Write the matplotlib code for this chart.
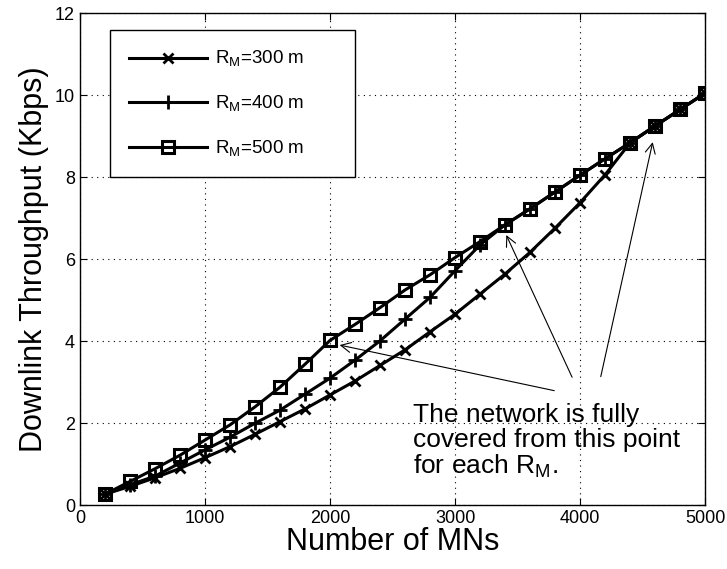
import matplotlib
matplotlib.use("Agg")
import matplotlib.pyplot as plt

plt.rcParams['font.family'] = ['Liberation Sans', 'DejaVu Sans']

# number of mobile nodes
mns = [200, 400, 600, 800, 1000, 1200, 1400, 1600, 1800, 2000, 2200, 2400, 2600,
       2800, 3000, 3200, 3400, 3600, 3800, 4000, 4200, 4400, 4600, 4800, 5000]

# downlink throughput (Kbps) for each R_M
thr_300 = [0.27, 0.46, 0.67, 0.90, 1.16, 1.43, 1.73, 2.04, 2.35, 2.69, 3.03, 3.41, 3.79,
           4.23, 4.66, 5.15, 5.64, 6.17, 6.76, 7.38, 8.06, 8.84, 9.25, 9.65, 10.05]
thr_400 = [0.27, 0.50, 0.71, 1.03, 1.35, 1.66, 2.00, 2.32, 2.71, 3.10, 3.54, 4.01, 4.54,
           5.07, 5.72, 6.35, 6.84, 7.23, 7.64, 8.05, 8.45, 8.84, 9.25, 9.65, 10.05]
thr_500 = [0.27, 0.58, 0.89, 1.22, 1.59, 1.96, 2.40, 2.88, 3.44, 4.02, 4.41, 4.82, 5.25,
           5.62, 6.04, 6.43, 6.84, 7.23, 7.64, 8.05, 8.45, 8.84, 9.25, 9.65, 10.05]

fig = plt.figure(figsize=(7.27, 5.69), dpi=100)
ax = fig.add_axes([0.110, 0.112, 0.860, 0.865])

ax.plot(mns, thr_300, 'k-', marker='x', ms=7, mew=2, lw=2.2, label=r'R$_\mathregular{M}$=300 m       ')
ax.plot(mns, thr_400, 'k-', marker='+', ms=10, mew=2, lw=2.2, label=r'R$_\mathregular{M}$=400 m       ')
ax.plot(mns, thr_500, 'k-', marker='s', ms=8, mew=2.2, mfc='none', lw=2.2, label=r'R$_\mathregular{M}$=500 m       ')

ax.set_xlim(0, 5000)
ax.set_ylim(0, 12)
ax.set_xticks([0, 1000, 2000, 3000, 4000, 5000])
ax.set_yticks([0, 2, 4, 6, 8, 10, 12])
ax.grid(True, color='k', linestyle=(0, (1, 4)), linewidth=0.8)
ax.tick_params(direction='in', top=True, right=True, labelsize=13, length=5, width=0.8)
for s in ax.spines.values():
    s.set_linewidth(1.0)

ax.set_xlabel('Number of MNs', fontsize=22, labelpad=0)
ax.set_ylabel('Downlink Throughput (Kbps)', fontsize=22, labelpad=4)

leg = ax.legend(loc='upper left', bbox_to_anchor=(0.048, 0.965), fontsize=13.5,
                handlelength=4.2, handletextpad=0.4, labelspacing=1.3, borderpad=1.0,
                fancybox=False, framealpha=1, edgecolor='k', borderaxespad=0)
leg.get_frame().set_linewidth(1.0)

# annotation with three arrows
ax.text(2665, 2.5, 'The network is fully\ncovered from this point\nfor each R$_\\mathregular{M}$.',
        fontsize=19, va='top', ha='left', linespacing=1.05)
ax.annotate('', xy=(2055, 3.92), xytext=(3815, 2.78), arrowprops=dict(arrowstyle='->', color='k', lw=0.8, mutation_scale=18))
ax.annotate('', xy=(3400, 6.65), xytext=(3945, 3.06), arrowprops=dict(arrowstyle='->', color='k', lw=0.8, mutation_scale=18))
ax.annotate('', xy=(4585, 8.92), xytext=(4160, 3.07), arrowprops=dict(arrowstyle='->', color='k', lw=0.8, mutation_scale=18))

fig.savefig('out.png', dpi=100)
